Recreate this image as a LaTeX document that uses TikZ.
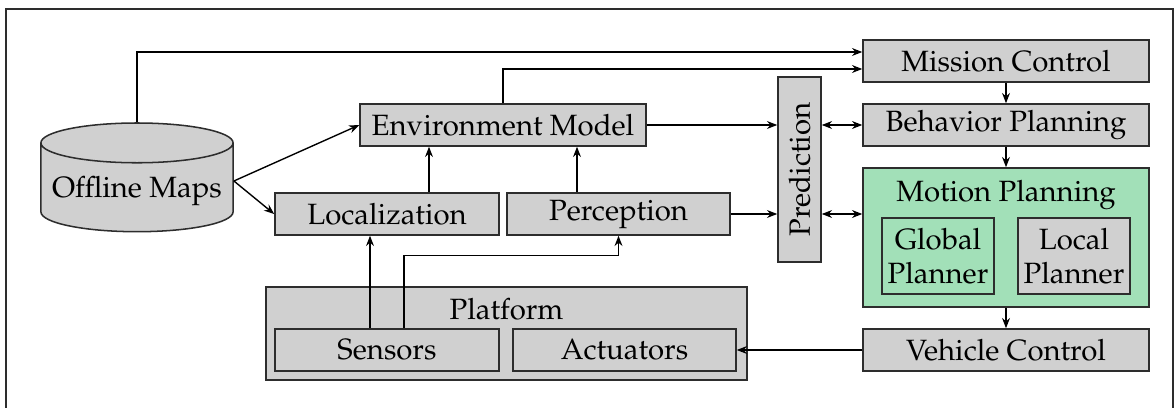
\documentclass[tikz,border=0pt]{standalone}
\usepackage[T1]{fontenc}
\usepackage{mathpazo}
\usepackage{tikz}
\usetikzlibrary{arrows.meta,positioning,shapes.geometric,calc}
\definecolor{avedge}{RGB}{45,45,45}
\definecolor{avgray}{RGB}{208,208,208}
\definecolor{avplan}{RGB}{162,224,184}
\tikzset{
  blk/.style={
    draw=avedge, line width=0.55pt, fill=avgray,
    align=center, inner sep=2pt, minimum height=5.33mm
  },
  plan/.style={blk, fill=avplan},
  store/.style={
    cylinder, shape border rotate=90, aspect=0.22,
    draw=avedge, fill=avgray, line width=0.55pt, inner sep=2pt
  },
  ttl/.style={anchor=north, inner sep=1pt},
  arr/.style={-{Stealth[length=1.3mm,width=1mm]}, draw=black, line width=0.5pt},
  darr/.style={{Stealth[length=1.3mm,width=1mm]}-{Stealth[length=1.3mm,width=1mm]},
    draw=black, line width=0.5pt},
  frame/.style={draw=avedge, line width=0.7pt},
  every picture/.append style={font=\fontsize{10.6}{12.4}\selectfont}
}

\begin{document}
\begin{tikzpicture}[x=0.0127cm,y=-0.0127cm]
  \useasboundingbox (0,0) rectangle (1174,408);
  \draw[frame] (6,9) rectangle (1173,412);

  % sources and the world model
  \node[store, minimum width=2.44cm, minimum height=1.38cm] (maps) at (137,191) {Offline Maps};
  \node[blk, minimum width=3.63cm] (env) at (503,125) {Environment Model};
  \node[blk, minimum width=2.845cm] (loc) at (387,214) {Localization};
  \node[blk, minimum width=2.83cm] (perc) at (618.5,214) {Perception};
  \node[blk, rotate=90, minimum width=2.35cm, minimum height=0.546cm] (pred) at (799.5,169.5) {Prediction};

  % platform with its sensors and actuators
  \node[blk, minimum width=6.11cm, minimum height=1.18cm] (plat) at (506.5,333.5) {};
  \node[ttl] (platttl) at ($(plat.north)+(0,9)$) {Platform};
  \node[blk, minimum width=2.845cm] (sens) at (387,350) {Sensors};
  \node[blk, minimum width=2.83cm] (act) at (624.5,350) {Actuators};

  % planning stack
  \node[blk, minimum width=3.63cm] (mc) at (1006,61) {Mission Control};
  \node[blk, minimum width=3.63cm] (bp) at (1006,125) {Behavior Planning};
  \node[plan, minimum width=3.63cm, minimum height=1.765cm] (mp) at (1006,237.5) {};
  \node[ttl] (mpttl) at ($(mp.north)+(0,10)$) {Motion Planning};
  \node[plan, minimum width=1.4cm, minimum height=0.965cm] (gp) at (938,256) {Global\\Planner};
  \node[blk, minimum width=1.4cm, minimum height=0.965cm] (lp) at (1074,256) {Local\\Planner};
  \node[blk, minimum width=3.63cm] (vc) at (1006,350) {Vehicle Control};

  \coordinate (mo) at ($(maps.east)+(0,-10)$);
  \coordinate (el) at ($(env.south)+(-74,0)$);
  \coordinate (er) at ($(env.south)+(74,0)$);
  \coordinate (s1) at ($(sens.north)+(-17,0)$);
  \coordinate (s2) at ($(sens.north)+(17,0)$);

  \draw[arr] (mo) -- (env.west);
  \draw[arr] (mo) -- (loc.west);
  \draw[arr] (maps.north) |- ($(mc.west)+(0,-9)$);
  \draw[arr] (env.north) |- ($(mc.west)+(0,8)$);
  \draw[arr] (el |- loc.north) -- (el);
  \draw[arr] (er |- perc.north) -- (er);
  \draw[arr] (s1) -- (s1 |- loc.south);
  \draw[arr] (s2) |- ($(perc.south)+(0,20)$) -- (perc.south);
  \draw[arr] (env.east) -- (env.east -| pred.north);
  \draw[arr] (perc.east) -- (perc.east -| pred.north);
  \draw[darr] (pred.south |- bp.west) -- (bp.west);
  \draw[darr] (pred.south |- perc.east) -- (perc.east -| mp.west);
  \draw[arr] (mc) -- (bp);
  \draw[arr] (bp) -- (mp);
  \draw[arr] (mp) -- (vc);
  \draw[arr] (vc.west) -- (act.east);
\end{tikzpicture}
\end{document}
